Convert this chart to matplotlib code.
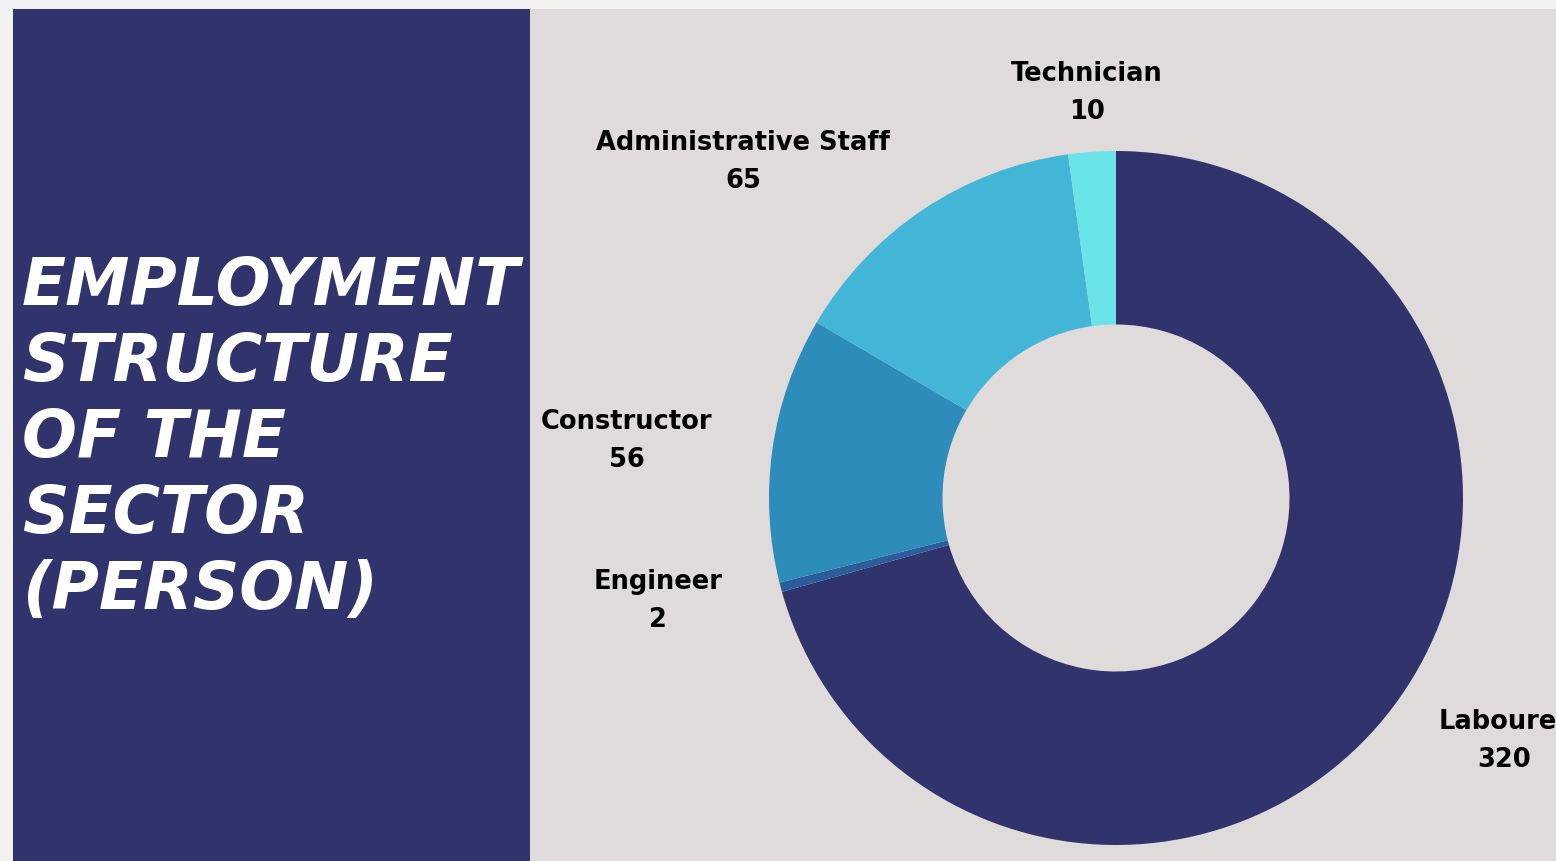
import matplotlib
matplotlib.use("Agg")
import matplotlib.pyplot as plt
from matplotlib.patches import Rectangle

# ---- data ----
categories = ["Labourer", "Engineer", "Constructor", "Administrative Staff", "Technician"]
values = [320, 2, 56, 65, 10]
colors = ["#31346c", "#2c5d9b", "#2e8cbb", "#43b6d7", "#6ae3e9"]
title_lines = ["EMPLOYMENT", "STRUCTURE", "OF THE", "SECTOR", "(PERSON)"]

# label anchor positions (data coords, radius 1 = outer ring)
label_pos = [(1.118, -0.70), (-1.32, -0.298), (-1.41, 0.165), (-1.075, 0.968), (-0.083, 1.168)]

W, H = 1556, 861
fig = plt.figure(figsize=(W / 100, H / 100), dpi=100)
fig.patch.set_facecolor("#f2f2f2")

# panels
fig.add_artist(Rectangle((13 / W, 0), (530 - 13) / W, (H - 9) / H, transform=fig.transFigure,
                         facecolor="#31346c", edgecolor="none", zorder=0))
fig.add_artist(Rectangle((530 / W, 0), (W - 530) / W, (H - 9) / H, transform=fig.transFigure,
                         facecolor="#e0dbdb", edgecolor="none", zorder=0))

# title
y0 = 305
for i, line in enumerate(title_lines):
    fig.text(22 / W, 1 - (y0 + i * 76) / H, line, color="white", fontsize=46.5,
             fontweight="bold", fontstyle="italic", family="DejaVu Sans",
             ha="left", va="baseline")

# donut
cx, cy, r = 1116, 498, 347
ax = fig.add_axes([(cx - r) / W, (H - cy - r) / H, 2 * r / W, 2 * r / H])
ax.pie(values, colors=colors, startangle=90, counterclock=False,
       wedgeprops=dict(width=0.5, edgecolor="none"), radius=1.0)
ax.set_xlim(-1, 1)
ax.set_ylim(-1, 1)
ax.set_aspect("equal")
ax.axis("off")

for name, val, (lx, ly) in zip(categories, values, label_pos):
    ax.text(lx, ly, f"{name}\n{val}", ha="center", va="center", fontsize=18.5,
            fontweight="bold", color="black", linespacing=1.6, clip_on=False)

fig.savefig("out.png", dpi=100, facecolor=fig.get_facecolor())
